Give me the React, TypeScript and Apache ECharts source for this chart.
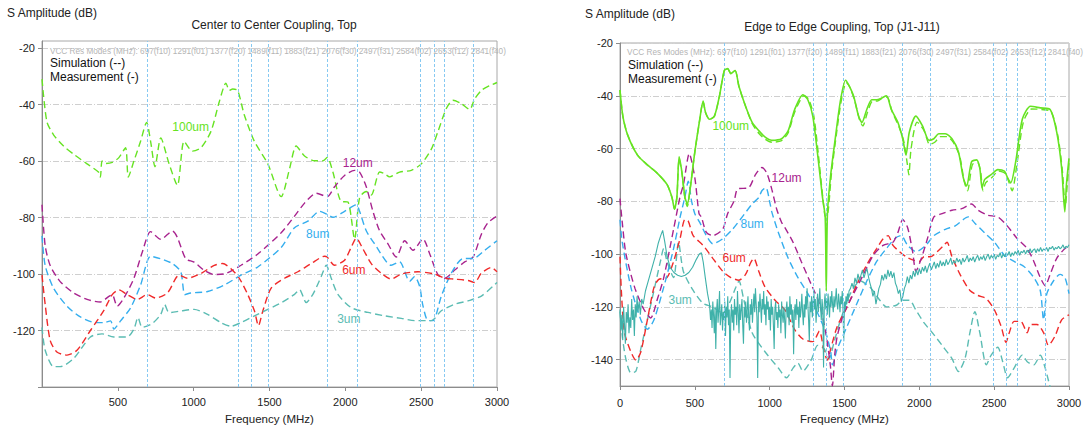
import React, { useEffect, useRef } from 'react';
import * as echarts from 'echarts';

// ---------- shared ----------
const FREQ_MIN = 0;
const FREQ_MAX = 3000;
const RES_MODES = [697, 1291, 1377, 1489, 1883, 2076, 2497, 2584, 2653, 2841];
const RES_TAGS = ['f10', 'f01', 'f20', 'f11', 'f21', 'f30', 'f31', 'f02', 'f12', 'f40'];
const LEFT_Y_TICKS = [-140, -120, -100, -80, -60, -40, -20];
const LEFT_Y_LABELS = [-120, -100, -80, -60, -40, -20];
const RIGHT_Y_TICKS = [-140, -120, -100, -80, -60, -40, -20];

// ---------- left chart: Center to Center Coupling, Top (simulation) ----------
const L_100UM_SIM = [[0,-31],[32,-46],[76,-50.7],[142,-54.7],[209,-57.6],[297,-61],[374,-64],[385,-65.7],[396,-60],[418,-60.9],[463,-60.5],[507,-58.8],[551,-55.3],[569,-65.7],[606,-60],[650,-53],[690,-46.3],[716,-53],[745,-62],[783,-51.8],[838,-61],[893,-68.6],[937,-53],[992,-56.5],[1048,-55.3],[1114,-49.5],[1169,-39],[1213,-32.4],[1235,-35],[1257,-34.5],[1290,-35],[1334,-43.7],[1400,-53],[1489,-61],[1577,-72.6],[1632,-62.8],[1676,-54.7],[1731,-58.2],[1797,-59.9],[1852,-59.9],[1881,-58.7],[1918,-63.9],[1973,-74.3],[2017,-74.5],[2061,-87.6],[2094,-73],[2138,-70.8],[2171,-72],[2226,-63.9],[2259,-64.5],[2292,-65.6],[2358,-63.9],[2435,-63.3],[2501,-61],[2567,-55.8],[2611,-49.5],[2666,-41.4],[2710,-38.5],[2765,-39.7],[2820,-41.7],[2853,-38],[2897,-35],[2952,-33.3],[3000,-32.2]];
const L_12UM_SIM = [[0,-75.5],[21,-90],[54,-97],[120,-102.7],[209,-106.7],[297,-109],[385,-109.9],[441,-107.9],[463,-107.3],[496,-111.4],[540,-108.5],[606,-101.5],[661,-92.3],[716,-85],[783,-87.7],[860,-84.8],[893,-87.1],[948,-94.6],[1003,-95.8],[1070,-98.7],[1136,-100.2],[1213,-99.8],[1312,-96.9],[1423,-92.9],[1577,-85.4],[1665,-79.5],[1731,-74.9],[1808,-71.4],[1881,-72.6],[1929,-69.1],[1995,-65.1],[2061,-63.3],[2094,-63.9],[2138,-69.1],[2182,-77.8],[2226,-84.7],[2281,-89.3],[2336,-94],[2391,-88.2],[2446,-91.6],[2512,-87.6],[2556,-92.8],[2611,-100.3],[2655,-101.5],[2721,-98.6],[2787,-95.7],[2842,-94],[2897,-85.9],[2941,-81.8],[3000,-79.5]];
const L_8UM_SIM = [[0,-86.5],[21,-97],[76,-105],[165,-111.4],[253,-115.2],[352,-117.2],[407,-117.2],[452,-116.6],[474,-119.5],[518,-116.6],[584,-112],[650,-103.9],[716,-93.7],[783,-94.6],[860,-96.3],[915,-99.2],[942,-107.3],[981,-106.7],[1092,-106.2],[1202,-103.9],[1312,-100.4],[1423,-97.5],[1577,-90.6],[1665,-83.6],[1753,-81.3],[1830,-77.8],[1885,-79],[1918,-79.9],[1995,-77.8],[2072,-75.5],[2094,-77.8],[2138,-84.7],[2193,-89.3],[2303,-96.9],[2358,-95.7],[2424,-102.6],[2457,-100.9],[2490,-104.4],[2512,-111.3],[2545,-116.5],[2578,-116.5],[2633,-107.8],[2699,-99.7],[2776,-94.5],[2842,-94.5],[2919,-91.6],[3000,-88.2]];
const L_6UM_SIM = [[0,-100.4],[21,-110.8],[54,-123.5],[98,-127.6],[165,-128.7],[231,-127],[319,-120],[407,-113],[463,-107.3],[507,-105.6],[562,-107.3],[628,-109],[694,-107.3],[750,-108.5],[827,-106.7],[882,-101.5],[904,-100.4],[959,-101.5],[1048,-99.8],[1136,-96.9],[1191,-96.3],[1246,-98.1],[1301,-101.5],[1357,-107.3],[1401,-113.1],[1427,-118.3],[1456,-113.1],[1511,-105],[1599,-101.5],[1687,-99.2],[1775,-96.3],[1863,-93.7],[1880,-94],[1929,-96.9],[1995,-95.1],[2039,-90.5],[2072,-87.3],[2116,-91.1],[2171,-96.3],[2237,-99.7],[2303,-101.8],[2369,-100],[2479,-99.2],[2589,-100],[2655,-101.5],[2721,-101.8],[2809,-102.3],[2853,-103],[2897,-99.7],[2963,-97.7],[3000,-99.2]];
const L_3UM_SIM = [[0,-118.9],[21,-127],[76,-132.8],[120,-132.8],[209,-129.9],[319,-122.3],[396,-121.2],[474,-122.3],[562,-122.3],[606,-119.5],[633,-115.4],[661,-118.9],[727,-117.5],[783,-114.3],[809,-110.8],[838,-113.7],[915,-113.1],[1003,-112.5],[1092,-114.3],[1180,-117.2],[1246,-118.5],[1312,-117.2],[1401,-114.8],[1489,-112.5],[1577,-110.2],[1665,-107.2],[1698,-105.5],[1742,-110.1],[1786,-107.2],[1841,-100.9],[1874,-96.9],[1907,-101.5],[1951,-107.2],[2039,-111.9],[2149,-113.6],[2259,-114.8],[2369,-115.7],[2457,-116.5],[2567,-116.5],[2633,-113],[2721,-110.7],[2809,-109.5],[2897,-107.8],[3000,-103]];

// ---------- right chart: Edge to Edge Coupling, Top (J1-J11) ----------
const R_100UM_MEAS = [[0,-37.8],[19,-47.7],[52,-55],[117,-62.5],[183,-66.2],[248,-69.3],[314,-73.6],[347,-78.5],[364,-82.9],[380,-78.5],[395,-63.1],[413,-68.7],[434,-78.5],[450,-81],[467,-76],[500,-61.3],[533,-48.9],[555,-42.1],[572,-46.4],[599,-48.9],[631,-47.7],[664,-40.2],[697,-30.4],[719,-29.7],[741,-31.6],[769,-30.4],[795,-36.5],[839,-44],[883,-50.1],[927,-53.2],[970,-55.7],[1014,-56.9],[1080,-56.3],[1124,-53.2],[1167,-45.2],[1222,-39.6],[1255,-41.5],[1288,-47.7],[1321,-62.5],[1353,-78.5],[1371,-86],[1378,-114],[1386,-84.7],[1408,-69.9],[1441,-55],[1474,-41.5],[1507,-34.1],[1528,-35.9],[1561,-40.2],[1594,-47.7],[1616,-50.1],[1649,-45.2],[1682,-41.5],[1715,-41.5],[1747,-40.9],[1780,-40],[1813,-45.2],[1857,-50.1],[1889,-56.3],[1911,-62.5],[1933,-53.8],[1977,-47.7],[2021,-51.4],[2065,-56.9],[2097,-56.3],[2130,-54.4],[2174,-54.4],[2218,-56.3],[2261,-61.2],[2294,-71.1],[2316,-74.2],[2349,-65],[2382,-64.3],[2404,-67.4],[2419,-74.8],[2437,-71.7],[2480,-69.9],[2524,-68],[2568,-68.6],[2590,-71.1],[2611,-73],[2644,-65],[2688,-48.9],[2743,-44],[2808,-44.6],[2874,-45.2],[2918,-53.8],[2951,-67.4],[2972,-84],[2983,-73.6],[3000,-63.7]];
const R_100UM_SIM = [[0,-37.8],[19,-47.7],[52,-55],[117,-62.5],[183,-66.2],[248,-69.3],[314,-73.6],[347,-78.5],[364,-83],[380,-78.5],[395,-64],[413,-69],[434,-79],[450,-82],[467,-76],[500,-61.3],[533,-49],[555,-42.1],[572,-46.4],[599,-49],[631,-47.7],[664,-40.2],[697,-30.4],[719,-29.7],[741,-31.6],[769,-30.4],[795,-36.5],[839,-44],[883,-50.5],[927,-54.2],[970,-56.5],[1014,-57.6],[1080,-57],[1124,-54],[1167,-46.2],[1230,-40],[1262,-41.5],[1295,-47.7],[1325,-62],[1355,-78.5],[1373,-86],[1390,-84],[1412,-70],[1445,-55],[1478,-42],[1512,-35],[1533,-36.5],[1566,-41.5],[1600,-49],[1622,-51.4],[1655,-46],[1688,-42],[1720,-42],[1752,-41],[1785,-40.5],[1818,-46],[1862,-51.5],[1895,-57],[1920,-66],[1930,-70],[1945,-60],[1985,-50],[2030,-53],[2070,-58.5],[2105,-57.5],[2140,-55.5],[2185,-55.5],[2225,-57.5],[2270,-63],[2300,-72.5],[2322,-76],[2355,-66],[2390,-65.5],[2410,-69],[2425,-76],[2443,-73],[2485,-71],[2530,-68.5],[2575,-69.5],[2600,-73],[2620,-76],[2652,-66],[2695,-50],[2750,-45],[2815,-45.2],[2880,-46],[2925,-55],[2955,-68],[2975,-82],[2988,-74],[3000,-65]];
const R_12UM_SIM = [[0,-79],[15,-88],[40,-100],[100,-113],[160,-121],[205,-124.2],[250,-117],[292,-109],[358,-90.6],[401,-78.3],[424,-73.6],[463,-61.9],[500,-71.1],[528,-84.7],[544,-86],[577,-91.8],[620,-93],[686,-90.6],[719,-84.7],[763,-79.8],[785,-75.4],[861,-74.8],[905,-69.9],[948,-67.2],[981,-69.3],[1014,-75.4],[1047,-83],[1080,-88],[1102,-90],[1156,-95.5],[1211,-102.8],[1277,-111.4],[1332,-118.7],[1375,-129.8],[1405,-142],[1419,-150],[1435,-138],[1452,-131],[1496,-122.4],[1561,-115],[1627,-107.7],[1693,-100.4],[1758,-96.7],[1824,-95.5],[1857,-91.8],[1889,-86.9],[1922,-90],[1955,-99.1],[1977,-106.5],[2010,-102.2],[2054,-94.2],[2097,-85.9],[2152,-84.7],[2218,-83.4],[2283,-82.8],[2349,-81],[2393,-83.4],[2458,-85.3],[2524,-85.9],[2590,-89.5],[2655,-94.2],[2721,-97.9],[2765,-102.8],[2808,-108.9],[2841,-112],[2874,-107.7],[2918,-101.6],[2962,-98.5],[3000,-96.7]];
const R_8UM_SIM = [[0,-87],[15,-95.5],[73,-112.6],[139,-124.9],[183,-128.5],[227,-124.9],[292,-112.6],[358,-97.9],[402,-85.9],[434,-78.3],[456,-72.4],[478,-79.8],[500,-84.7],[533,-88],[577,-93],[620,-96.1],[686,-94.2],[752,-90.6],[817,-85.9],[883,-81],[927,-78.6],[948,-76],[975,-74.8],[1003,-81],[1014,-84],[1058,-91.8],[1124,-101.6],[1189,-108.9],[1255,-115],[1321,-122.4],[1375,-129.8],[1408,-137],[1419,-142],[1452,-135.9],[1518,-127.3],[1583,-118.7],[1649,-110.2],[1715,-102.8],[1780,-97.9],[1835,-94.2],[1878,-93],[1922,-96.7],[1977,-99.1],[2043,-96.7],[2097,-93],[2174,-90.6],[2240,-89.3],[2327,-85.9],[2371,-88.3],[2437,-92],[2502,-95.5],[2568,-100.4],[2633,-102.8],[2699,-104.7],[2765,-108.9],[2808,-113.8],[2830,-124.9],[2852,-115],[2896,-110.2],[2940,-107.7],[2973,-108.9],[3000,-115]];
const R_6UM_SIM = [[0,-101],[10,-115],[30,-129.8],[73,-137.1],[106,-140.2],[139,-137.1],[183,-124.9],[227,-112.6],[259,-109.6],[314,-108.9],[358,-102.8],[401,-94.2],[434,-86.9],[456,-87.5],[489,-93],[555,-96.7],[620,-101.6],[686,-106.5],[741,-108.9],[795,-109.9],[839,-107.7],[872,-103.4],[894,-101.6],[927,-106.5],[970,-112.6],[1036,-117.5],[1102,-121.2],[1167,-128.6],[1222,-132.2],[1288,-133.2],[1332,-129.2],[1364,-137.1],[1386,-140.2],[1408,-135.9],[1452,-127.3],[1518,-120],[1583,-111.4],[1649,-104],[1715,-97.9],[1758,-94.2],[1791,-93],[1824,-96.7],[1868,-99.1],[1911,-101],[1955,-102.2],[1999,-102.8],[2032,-101],[2076,-101],[2119,-99.1],[2163,-96.7],[2185,-95.5],[2218,-101],[2272,-107.7],[2338,-113.8],[2393,-115.7],[2448,-116.9],[2502,-121.2],[2546,-127.3],[2579,-133.4],[2601,-129.8],[2633,-125.5],[2677,-125.5],[2721,-129.8],[2743,-126.7],[2787,-126.7],[2830,-129.8],[2863,-134.6],[2907,-131],[2951,-124.9],[3000,-123]];
const R_3UM_SIM = [[0,-121.7],[15,-131],[40,-140],[73,-145],[106,-144.4],[139,-135.9],[183,-124.9],[227,-113.8],[270,-102.8],[292,-97.9],[314,-102.8],[358,-108.9],[391,-95.5],[423,-106.5],[489,-113.8],[555,-118.7],[620,-120],[686,-122.4],[730,-118.7],[774,-112.6],[795,-110.2],[828,-117.5],[883,-129.8],[970,-137.1],[1058,-143.2],[1113,-146.9],[1156,-143.2],[1189,-141.3],[1222,-144.4],[1277,-140.2],[1321,-134.6],[1364,-135.9],[1397,-139.6],[1430,-133.4],[1474,-124.9],[1539,-115],[1605,-110.2],[1671,-112.6],[1736,-117.5],[1780,-120],[1846,-119.4],[1889,-117.5],[1933,-117.5],[1977,-121.2],[2032,-126.1],[2087,-129.8],[2152,-134.6],[2218,-139.6],[2261,-144.5],[2305,-139.6],[2338,-129.8],[2371,-121.8],[2404,-129.8],[2448,-142],[2480,-138.3],[2524,-135.3],[2557,-140.8],[2590,-146.9],[2633,-143.2],[2688,-138.3],[2721,-140.8],[2765,-142],[2808,-138.3],[2841,-143.2],[2863,-148],[2885,-153]];
const R_3UM_MEAS = [[0,-121],[6,-129],[12,-123],[18,-132],[24,-120],[30,-127],[36,-134],[42,-122],[48,-126],[54,-119],[60,-130],[66,-124],[72,-128],[78,-117],[84,-125],[90,-121],[96,-131],[102,-119],[108,-124],[114,-116],[120,-122],[128,-118],[136,-123],[145,-117],[155,-119],[170,-114],[190,-110],[210,-106],[235,-101],[255,-96],[272,-93],[285,-91],[298,-95],[315,-101],[335,-105],[360,-107],[385,-108],[410,-108.5],[435,-108],[460,-107],[485,-105],[510,-102],[530,-100],[544,-99.5],[556,-103],[570,-109],[585,-115],[598,-119],
[600,-119],[605,-125],[610,-121],[615,-128],[620,-118],[625,-123],[630,-130],[635,-120],[640,-136],[645,-122],[650,-117],[655,-126],[660,-121],[665,-114],[670,-127],[675,-123],[680,-119],[685,-129],[690,-122],[695,-125],[700,-118],[705,-131],[710,-120],[715,-124],[720,-116],[725,-127],[730,-121],[735,-147],[740,-124],[745,-119],[750,-126],[755,-121],[760,-129],[765,-117],[770,-123],[775,-120],[780,-127],[785,-114],[790,-122],[795,-130],[800,-119],[805,-125],[810,-121],[815,-117],[820,-127],[825,-134],[830,-120],[835,-124],[840,-118],[845,-126],[850,-121],[855,-116],[860,-124],[865,-129],[870,-119],[875,-123],[880,-117],[885,-126],[890,-120],[895,-115],[900,-122],[905,-113],[910,-119],[915,-124],[920,-147],[925,-118],[930,-122],[935,-115],[940,-120],[945,-126],[950,-117],[955,-121],[960,-114],[965,-123],[970,-119],[975,-127],[980,-116],[985,-121],[990,-118],[995,-125],[1000,-120],[1005,-129],[1010,-117],[1015,-123],[1020,-120],[1025,-127],[1030,-136],[1035,-121],[1040,-118],[1045,-125],[1050,-122],[1055,-128],[1060,-119],[1065,-124],[1070,-121],[1075,-130],[1080,-118],[1085,-123],[1090,-126],[1095,-120],[1100,-125],[1105,-132],[1110,-121],[1115,-118],[1120,-124],[1125,-120],[1130,-127],[1135,-116],[1140,-123],[1145,-119],[1150,-126],[1155,-121],[1160,-138],[1165,-122],[1170,-119],[1175,-125],[1180,-117],[1185,-123],[1190,-120],[1195,-128],[1200,-118],[1205,-124],[1210,-121],[1215,-115],[1220,-122],[1225,-127],[1230,-119],[1235,-124],[1240,-116],[1245,-121],[1250,-113],[1255,-119],[1260,-125],[1265,-133],[1270,-118],[1275,-122],[1280,-116],[1285,-124],[1290,-119],[1295,-114],[1300,-121],[1305,-117],[1310,-126],[1315,-120],[1320,-115],[1325,-122],[1330,-118],[1335,-113],[1340,-120],[1345,-125],[1350,-117],[1355,-121],[1360,-143],[1365,-119],[1370,-115],[1375,-121],[1380,-117],[1385,-123],[1390,-115],[1395,-119],[1400,-124],[1405,-116],[1410,-120],[1415,-114],[1420,-119],[1425,-122],[1430,-116],[1435,-120],[1440,-117],[1445,-113],[1450,-119],[1455,-121],[1460,-115],[1465,-118],[1470,-122],[1475,-116],[1480,-119],[1485,-114],[1490,-121],[1495,-133],[1500,-118],[1505,-121],[1510,-116],[1515,-119],[1520,-115],[1525,-118],[1530,-114],
[1540,-113],[1550,-111],[1560,-113],[1570,-109],[1580,-111],[1590,-107.5],[1600,-110],[1610,-108],[1620,-106],[1630,-109],[1640,-107],[1650,-105.5],[1660,-108.5],[1670,-111],[1680,-113],[1690,-116],[1700,-114],[1710,-119],[1720,-116],[1730,-113],[1740,-111.5],[1750,-108],[1760,-110],[1770,-107.5],[1780,-109.5],[1790,-106],[1800,-108.5],[1810,-106.5],[1820,-109],[1830,-107],[1840,-111],[1850,-112.5],[1860,-115],[1870,-113.5],[1880,-118],[1890,-116],[1900,-113],[1910,-111.5],[1920,-108.5],[1930,-111],[1940,-108],[1950,-109.5],[1960,-106.5],[1970,-108.5],[1980,-106],[1990,-108],[2000,-105.5],[2010,-107.5],[2020,-105],[2030,-106.5],[2040,-104.5],[2050,-107],[2060,-105],[2070,-103.5],[2080,-106],[2090,-104.5],[2100,-103],[2110,-105.5],[2120,-103.5],[2130,-105],[2140,-102.5],[2150,-104.5],[2160,-103],[2170,-104.5],[2180,-102],[2190,-104],[2200,-103],[2210,-101.5],[2220,-104],[2230,-102.5],[2240,-103.5],[2250,-101.5],[2260,-103],[2270,-102],[2280,-104],[2290,-101.5],[2300,-103],[2310,-102],[2320,-100.5],[2330,-103],[2340,-101.5],[2350,-102.5],[2360,-101],[2370,-103],[2380,-101.5],[2390,-100.5],[2400,-102.5],[2410,-101],[2420,-102],[2430,-100.5],[2440,-102.5],[2450,-101],[2460,-100],[2470,-102],[2480,-100.5],[2490,-101.5],[2500,-100],[2510,-102],[2520,-100.5],[2530,-101],[2540,-99.5],[2550,-101.5],[2560,-100],[2570,-101],[2580,-99.5],[2590,-100.5],[2600,-99],[2610,-101],[2620,-99.5],[2630,-100.5],[2640,-99],[2650,-100],[2660,-98.5],[2670,-100.5],[2680,-99],[2690,-99.5],[2700,-98.5],[2710,-100],[2720,-98.5],[2730,-99.5],[2740,-98],[2750,-99.5],[2760,-98.5],[2770,-98],[2780,-99.5],[2790,-98],[2800,-99],[2810,-97.5],[2820,-99],[2830,-98],[2840,-98.5],[2850,-97.5],[2860,-99],[2870,-97.5],[2880,-98],[2890,-97],[2900,-98.5],[2910,-97.5],[2920,-98],[2930,-97],[2940,-98],[2950,-97.5],[2960,-96.5],[2970,-98],[2980,-97],[2990,-97.5],[3000,-96.5]];

// curve label anchors (data units)
const L_LABEL_AT = { '100um': [980, -47.9], '12um': [2082, -60.7], '8um': [1818, -86], '6um': [2056, -98.5], '3um': [2023, -115.8] };
const R_LABEL_AT = { '100um': [740, -51.4], '12um': [1113, -71.1], '8um': [883, -88.5], '6um': [763, -101.3], '3um': [402, -117.5] };

const COLORS = {
  '100um': '#66e322',
  '12um': '#a8238e',
  '8um': '#35aeee',
  '6um': '#f02a2a',
  '3um': '#5bbcb3',
};
const TEAL_MEAS = '#3fb1a9';
const FONT = '"Liberation Sans", Arial, sans-serif';

const resText = 'VCC Res Modes (MHz): ' + RES_MODES.map((m, i) => `${m}(${RES_TAGS[i]})`).join(' ');

function simSeries(name: string, data: number[][], idx: number, labelAt: number[] | null, extra: any = {}) {
  const color = (COLORS as any)[name];
  const s: any = {
    type: 'line',
    name,
    xAxisIndex: idx,
    yAxisIndex: idx,
    data,
    showSymbol: false,
    smooth: 0.25,
    z: 3,
    lineStyle: { color, width: 1.4, type: [7, 4] },
    ...extra,
  };
  if (labelAt) {
    s.markPoint = {
      silent: true,
      symbol: 'rect',
      symbolSize: 1,
      itemStyle: { color: 'rgba(0,0,0,0)' },
      label: { show: true, position: 'inside', formatter: name, color, fontSize: 12, fontFamily: FONT },
      data: [{ coord: labelAt, name }],
    };
  }
  return s;
}

function resLines(idx: number) {
  return {
    type: 'line',
    xAxisIndex: idx,
    yAxisIndex: idx,
    data: [],
    silent: true,
    z: 1,
    markLine: {
      silent: true,
      symbol: ['none', 'none'],
      label: { show: false },
      lineStyle: { color: '#86c9f2', width: 1, type: [3, 2] },
      data: RES_MODES.map((m) => ({ xAxis: m })),
    },
  };
}

export default function App() {
  const ref = useRef<HTMLDivElement>(null);
  useEffect(() => {
    if (!ref.current) return;
    const chart = echarts.init(ref.current, null, { renderer: 'svg' });
    const axisLine = { show: true, lineStyle: { color: '#8c8c8c' } };
    const splitLine = { show: true, lineStyle: { color: '#cfcfcf', width: 1, type: [6, 2, 1, 2] } };
    const labelStyle = { color: '#222', fontSize: 11, fontFamily: FONT };
    const xBase = {
      type: 'value',
      min: FREQ_MIN,
      max: FREQ_MAX,
      interval: 500,
      axisLine,
      axisTick: { show: true, length: 4, lineStyle: { color: '#8c8c8c' } },
      splitLine: { show: false },
      name: 'Frequency (MHz)',
      nameLocation: 'middle',
      nameTextStyle: { color: '#222', fontSize: 11.5, fontFamily: FONT },
    };
    const fmt = (v: number) => String(v);
    const option: any = {
      animation: false,
      backgroundColor: '#ffffff',
      grid: [
        { left: 42, top: 41, width: 455, height: 351, show: true, borderColor: '#a8a8a8', borderWidth: 1 },
        { left: 620, top: 43, width: 449, height: 352, show: true, borderColor: '#a8a8a8', borderWidth: 1 },
      ],
      xAxis: [
        { ...xBase, gridIndex: 0, nameGap: 26, axisLabel: { ...labelStyle, margin: 9, showMinLabel: false, formatter: fmt } },
        { ...xBase, gridIndex: 1, nameGap: 27, axisLabel: { ...labelStyle, margin: 11, formatter: fmt } },
      ],
      yAxis: [
        {
          type: 'value', gridIndex: 0, min: -140, max: -17.5,
          axisLine,
          axisTick: { show: true, length: 4, lineStyle: { color: '#8c8c8c' }, customValues: LEFT_Y_TICKS },
          axisLabel: { ...labelStyle, margin: 7, customValues: LEFT_Y_LABELS, formatter: fmt },
          splitLine,
        },
        {
          type: 'value', gridIndex: 1, min: -150, max: -20,
          axisLine,
          axisTick: { show: true, length: 4, lineStyle: { color: '#8c8c8c' }, customValues: RIGHT_Y_TICKS },
          axisLabel: { ...labelStyle, margin: 7, customValues: RIGHT_Y_TICKS, formatter: fmt },
          splitLine,
        },
      ],
      graphic: [
        { type: 'text', left: 7, top: 7, style: { text: 'S Amplitude (dB)', fontSize: 12, fontFamily: FONT, fill: '#222' } },
        { type: 'text', x: 274, y: 25, style: { text: 'Center to Center Coupling, Top', fontSize: 12, fontFamily: FONT, fill: '#222', textAlign: 'center', textVerticalAlign: 'middle' } },
        { type: 'text', x: 50, y: 51, style: { text: resText, fontSize: 8.2, fontFamily: FONT, fill: '#b4b4b4', textVerticalAlign: 'middle' } },
        { type: 'text', x: 50, y: 63, style: { text: 'Simulation (--)', fontSize: 12, fontFamily: FONT, fill: '#111', textVerticalAlign: 'middle' } },
        { type: 'text', x: 50, y: 77, style: { text: 'Measurement (-)', fontSize: 12, fontFamily: FONT, fill: '#111', textVerticalAlign: 'middle' } },
        { type: 'text', left: 585, top: 8, style: { text: 'S Amplitude (dB)', fontSize: 12, fontFamily: FONT, fill: '#222' } },
        { type: 'text', x: 842, y: 27, style: { text: 'Edge to Edge Coupling, Top (J1-J11)', fontSize: 12, fontFamily: FONT, fill: '#222', textAlign: 'center', textVerticalAlign: 'middle' } },
        { type: 'text', x: 627, y: 52, style: { text: resText, fontSize: 8.2, fontFamily: FONT, fill: '#b4b4b4', textVerticalAlign: 'middle' } },
        { type: 'text', x: 628, y: 65, style: { text: 'Simulation (--)', fontSize: 12, fontFamily: FONT, fill: '#111', textVerticalAlign: 'middle' } },
        { type: 'text', x: 628, y: 79, style: { text: 'Measurement (-)', fontSize: 12, fontFamily: FONT, fill: '#111', textVerticalAlign: 'middle' } },
      ],
      series: [
        resLines(0),
        simSeries('100um', L_100UM_SIM, 0, L_LABEL_AT['100um']),
        simSeries('12um', L_12UM_SIM, 0, L_LABEL_AT['12um']),
        simSeries('8um', L_8UM_SIM, 0, L_LABEL_AT['8um']),
        simSeries('6um', L_6UM_SIM, 0, L_LABEL_AT['6um']),
        simSeries('3um', L_3UM_SIM, 0, L_LABEL_AT['3um']),
        resLines(1),
        simSeries('3um', R_3UM_SIM, 1, R_LABEL_AT['3um']),
        {
          type: 'line', name: '3um meas', xAxisIndex: 1, yAxisIndex: 1, data: R_3UM_MEAS,
          showSymbol: false, z: 4, lineStyle: { color: TEAL_MEAS, width: 1.1 },
        },
        simSeries('6um', R_6UM_SIM, 1, R_LABEL_AT['6um']),
        simSeries('8um', R_8UM_SIM, 1, R_LABEL_AT['8um']),
        simSeries('12um', R_12UM_SIM, 1, R_LABEL_AT['12um']),
        simSeries('100um', R_100UM_SIM, 1, null),
        {
          type: 'line', name: '100um meas', xAxisIndex: 1, yAxisIndex: 1, data: R_100UM_MEAS,
          showSymbol: false, smooth: 0.25, z: 5, lineStyle: { color: COLORS['100um'], width: 1.6 },
          markPoint: {
            silent: true, symbol: 'rect', symbolSize: 1, itemStyle: { color: 'rgba(0,0,0,0)' },
            label: { show: true, position: 'inside', formatter: '100um', color: COLORS['100um'], fontSize: 12, fontFamily: FONT },
            data: [{ coord: R_LABEL_AT['100um'], name: '100um' }],
          },
        },
      ],
    };
    chart.setOption(option);
    return () => chart.dispose();
  }, []);
  return <div ref={ref} style={{ position: 'fixed', left: 0, top: 0, width: 1091, height: 430, background: '#fff' }} />;
}
